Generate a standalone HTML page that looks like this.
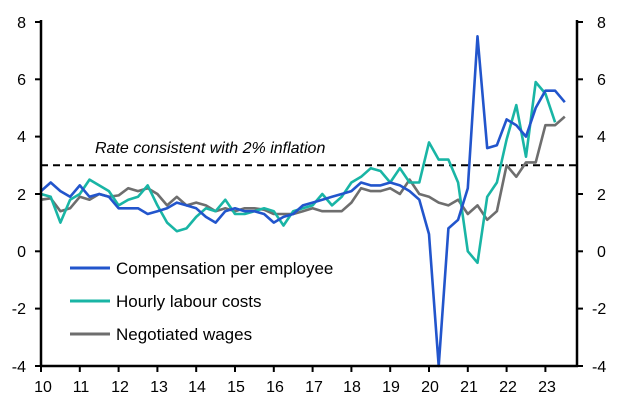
<!DOCTYPE html>
<html><head><meta charset="utf-8"><style>
html,body{margin:0;padding:0;background:#fff;}
svg{display:block;font-family:"Liberation Sans",sans-serif;}
</style></head><body>
<svg id="c" width="627" height="404" xmlns="http://www.w3.org/2000/svg">
<rect width="627" height="404" fill="#fff"/>
<line x1="41" y1="165.3" x2="577" y2="165.3" stroke="#000" stroke-width="2" stroke-dasharray="7,5"/>
<text x="95" y="153" font-size="16" font-style="italic" fill="#000">Rate consistent with 2% inflation</text>
<g id="series"></g>
<g stroke="#000" stroke-width="2.5" fill="none">
<line x1="41" y1="20" x2="41" y2="367"/>
<line x1="577" y1="20" x2="577" y2="367"/>
<line x1="40" y1="366" x2="578" y2="366"/>
</g>
<g stroke="#000" stroke-width="2">
<line x1="41" y1="366" x2="41" y2="372"/><line x1="79.8" y1="366" x2="79.8" y2="372"/><line x1="118.6" y1="366" x2="118.6" y2="372"/><line x1="157.4" y1="366" x2="157.4" y2="372"/><line x1="196.2" y1="366" x2="196.2" y2="372"/><line x1="235" y1="366" x2="235" y2="372"/><line x1="273.8" y1="366" x2="273.8" y2="372"/><line x1="312.6" y1="366" x2="312.6" y2="372"/><line x1="351.4" y1="366" x2="351.4" y2="372"/><line x1="390.2" y1="366" x2="390.2" y2="372"/><line x1="429" y1="366" x2="429" y2="372"/><line x1="467.8" y1="366" x2="467.8" y2="372"/><line x1="506.6" y1="366" x2="506.6" y2="372"/><line x1="545.4" y1="366" x2="545.4" y2="372"/>
<line x1="35" y1="22" x2="41" y2="22"/><line x1="35" y1="79.3" x2="41" y2="79.3"/><line x1="35" y1="136.6" x2="41" y2="136.6"/><line x1="35" y1="194" x2="41" y2="194"/><line x1="35" y1="251.3" x2="41" y2="251.3"/><line x1="35" y1="308.6" x2="41" y2="308.6"/><line x1="35" y1="366" x2="41" y2="366"/>
<line x1="577" y1="22" x2="583" y2="22"/><line x1="577" y1="79.3" x2="583" y2="79.3"/><line x1="577" y1="136.6" x2="583" y2="136.6"/><line x1="577" y1="194" x2="583" y2="194"/><line x1="577" y1="251.3" x2="583" y2="251.3"/><line x1="577" y1="308.6" x2="583" y2="308.6"/><line x1="577" y1="366" x2="583" y2="366"/>
</g>
<g font-size="16" fill="#000" text-anchor="middle">
<text x="43" y="392">10</text><text x="81" y="392">11</text><text x="120" y="392">12</text><text x="159" y="392">13</text><text x="197" y="392">14</text><text x="236" y="392">15</text><text x="275" y="392">16</text><text x="314" y="392">17</text><text x="352" y="392">18</text><text x="391" y="392">19</text><text x="430" y="392">20</text><text x="469" y="392">21</text><text x="508" y="392">22</text><text x="547" y="392">23</text>
</g>
<g font-size="16" fill="#000" text-anchor="end">
<text x="26" y="28">8</text><text x="26" y="85">6</text><text x="26" y="142">4</text><text x="26" y="200">2</text><text x="26" y="257">0</text><text x="26" y="314">-2</text><text x="26" y="372">-4</text>
</g>
<g font-size="16" fill="#000">
<text x="597" y="28">8</text><text x="597" y="85">6</text><text x="597" y="142">4</text><text x="597" y="200">2</text><text x="597" y="257">0</text><text x="592" y="314">-2</text><text x="592" y="372">-4</text>
</g>
<g stroke-width="3">
<line x1="70" y1="268" x2="110" y2="268" stroke="#2255cc"/>
<line x1="70" y1="301" x2="110" y2="301" stroke="#19b5a5"/>
<line x1="70" y1="334" x2="110" y2="334" stroke="#6e6e6e"/>
</g>
<g font-size="17" fill="#000">
<text x="116" y="274">Compensation per employee</text>
<text x="116" y="307">Hourly labour costs</text>
<text x="116" y="340">Negotiated wages</text>
</g>
<script>
var X=function(t){return 41+t*38.8}, Y=function(v){return 251.3-v*28.67};
var blue=[2.1,2.4,2.1,1.9,2.3,1.9,2.0,1.9,1.5,1.5,1.5,1.3,1.4,1.5,1.7,1.6,1.5,1.2,1.0,1.4,1.5,1.4,1.4,1.3,1.0,1.2,1.3,1.6,1.7,1.8,1.9,2.0,2.1,2.4,2.3,2.3,2.4,2.3,2.1,1.8,0.6,-4,0.8,1.1,2.2,7.5,3.6,3.7,4.6,4.4,4.0,5.0,5.6,5.6,5.2];
var teal=[2.0,1.9,1.0,1.8,2.0,2.5,2.3,2.1,1.6,1.8,1.9,2.3,1.6,1.0,0.7,0.8,1.2,1.5,1.4,1.8,1.3,1.3,1.4,1.5,1.4,0.9,1.4,1.5,1.6,2.0,1.6,1.9,2.4,2.6,2.9,2.8,2.4,2.9,2.4,2.4,3.8,3.2,3.2,2.4,0.0,-0.4,1.9,2.4,3.9,5.1,3.3,5.9,5.5,4.5];
var grey=[1.8,1.85,1.4,1.5,1.9,1.8,2.0,1.9,1.95,2.2,2.1,2.2,2.0,1.6,1.9,1.6,1.7,1.6,1.4,1.5,1.4,1.5,1.5,1.45,1.3,1.3,1.3,1.4,1.5,1.4,1.4,1.4,1.7,2.2,2.1,2.1,2.2,2.0,2.5,2.0,1.9,1.7,1.6,1.8,1.3,1.6,1.1,1.4,3.0,2.6,3.1,3.1,4.4,4.4,4.7];
function pl(d,c){var p=d.map(function(v,i){return X(i/4).toFixed(1)+','+Y(v).toFixed(1)}).join(' ');
var e=document.createElementNS('http://www.w3.org/2000/svg','polyline');e.setAttribute('points',p);e.setAttribute('fill','none');e.setAttribute('stroke',c);e.setAttribute('stroke-width','2.6');e.setAttribute('stroke-linejoin','round');document.getElementById('series').appendChild(e);}
pl(grey,'#6e6e6e');pl(teal,'#19b5a5');pl(blue,'#2255cc');
</script>
</svg>
</body></html>
